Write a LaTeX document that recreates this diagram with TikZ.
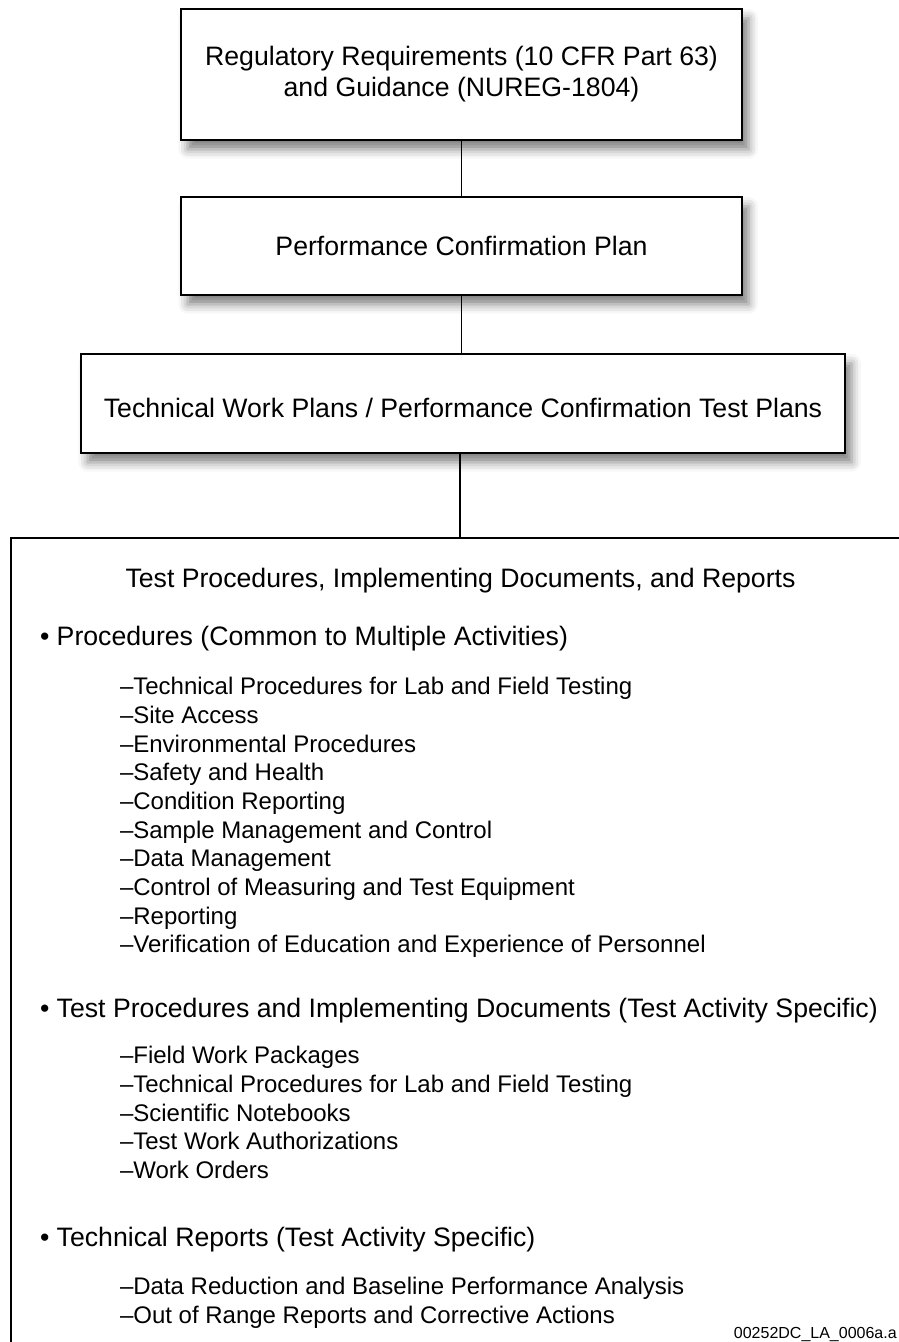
\documentclass[tikz,border=0pt]{standalone}
\usepackage{fontspec}
\setmainfont{Liberation Sans}
\usetikzlibrary{shadows.blur}
\definecolor{frame}{rgb}{0,0,0}
\tikzset{
  plan/.style={draw=frame, line width=2pt, fill=white, inner sep=0pt,
    align=center, font=\fontsize{20}{23.25}\selectfont,
    blur shadow={shadow xshift=5pt, shadow yshift=-7pt,
      shadow blur radius=7pt, shadow opacity=50}},
  link/.style={draw=frame, line width=1pt},
  head/.style={anchor=base west, inner sep=0pt, outer sep=0pt,
    font=\fontsize{20}{24}\selectfont},
  item/.style={anchor=base west, inner sep=0pt, outer sep=0pt,
    font=\fontsize{18}{21}\selectfont}
}

\begin{document}
\begin{tikzpicture}[x=0.75pt,y=-0.75pt]
\useasboundingbox (0,0) rectangle (899,1342);
\node [plan, minimum width=420.75pt, minimum height=98.25pt] (regs) at (461.5,74.5)
  {Regulatory Requirements (10 CFR Part 63)\\and Guidance (NUREG-1804)};
\node [plan, minimum width=420.75pt, minimum height=73.5pt] (pcp) at (461.5,246)
  {Performance Confirmation Plan};
\node [plan, minimum width=573pt, minimum height=74.25pt] (tplans) at (463,403.5)
  {\raisebox{-10.4pt}[0pt][0pt]{Technical Work Plans / Performance Confirmation Test Plans}};
\coordinate (docs) at (460,538);
\draw [line width=1.8pt] (11,1350) -- (11,538) -- (905,538);
\draw [link] (regs) -- (pcp);
\draw [link] (pcp.south) -- (pcp.south |- tplans.north);
\draw [link] (tplans.south -| docs) -- (docs);
\node [head, anchor=base] (title) at (460.5,587)
  {Test Procedures, Implementing Documents, and Reports};
\node [head] (common) at (40,645) {• Procedures (Common to Multiple Activities)};
\node [head] (specific) at (40,1017)
  {• Test Procedures and Implementing Documents (Test Activity Specific)};
\node [head] (reports) at (40,1246) {• Technical Reports (Test Activity Specific)};
\foreach \t [count=\i from 0] in {Technical Procedures for Lab and Field Testing,
    Site Access, Environmental Procedures, Safety and Health, Condition Reporting,
    Sample Management and Control, Data Management,
    Control of Measuring and Test Equipment, Reporting,
    Verification of Education and Experience of Personnel}
  \node [item] (common\i) at (120,{694.6+28.7*\i}) {–\t};
\foreach \t [count=\i from 0] in {Field Work Packages,
    Technical Procedures for Lab and Field Testing, Scientific Notebooks,
    Test Work Authorizations, Work Orders}
  \node [item] (specific\i) at (120,{1063.6+28.7*\i}) {–\t};
\foreach \t [count=\i from 0] in {Data Reduction and Baseline Performance Analysis,
    Out of Range Reports and Corrective Actions}
  \node [item] (reports\i) at (120,{1294.6+28.7*\i}) {–\t};
\node [anchor=base east, inner sep=0pt, font=\fontsize{12}{14}\selectfont] (tag)
  at (897,1338.5) {00252DC\_LA\_0006a.a};
\end{tikzpicture}
\end{document}
